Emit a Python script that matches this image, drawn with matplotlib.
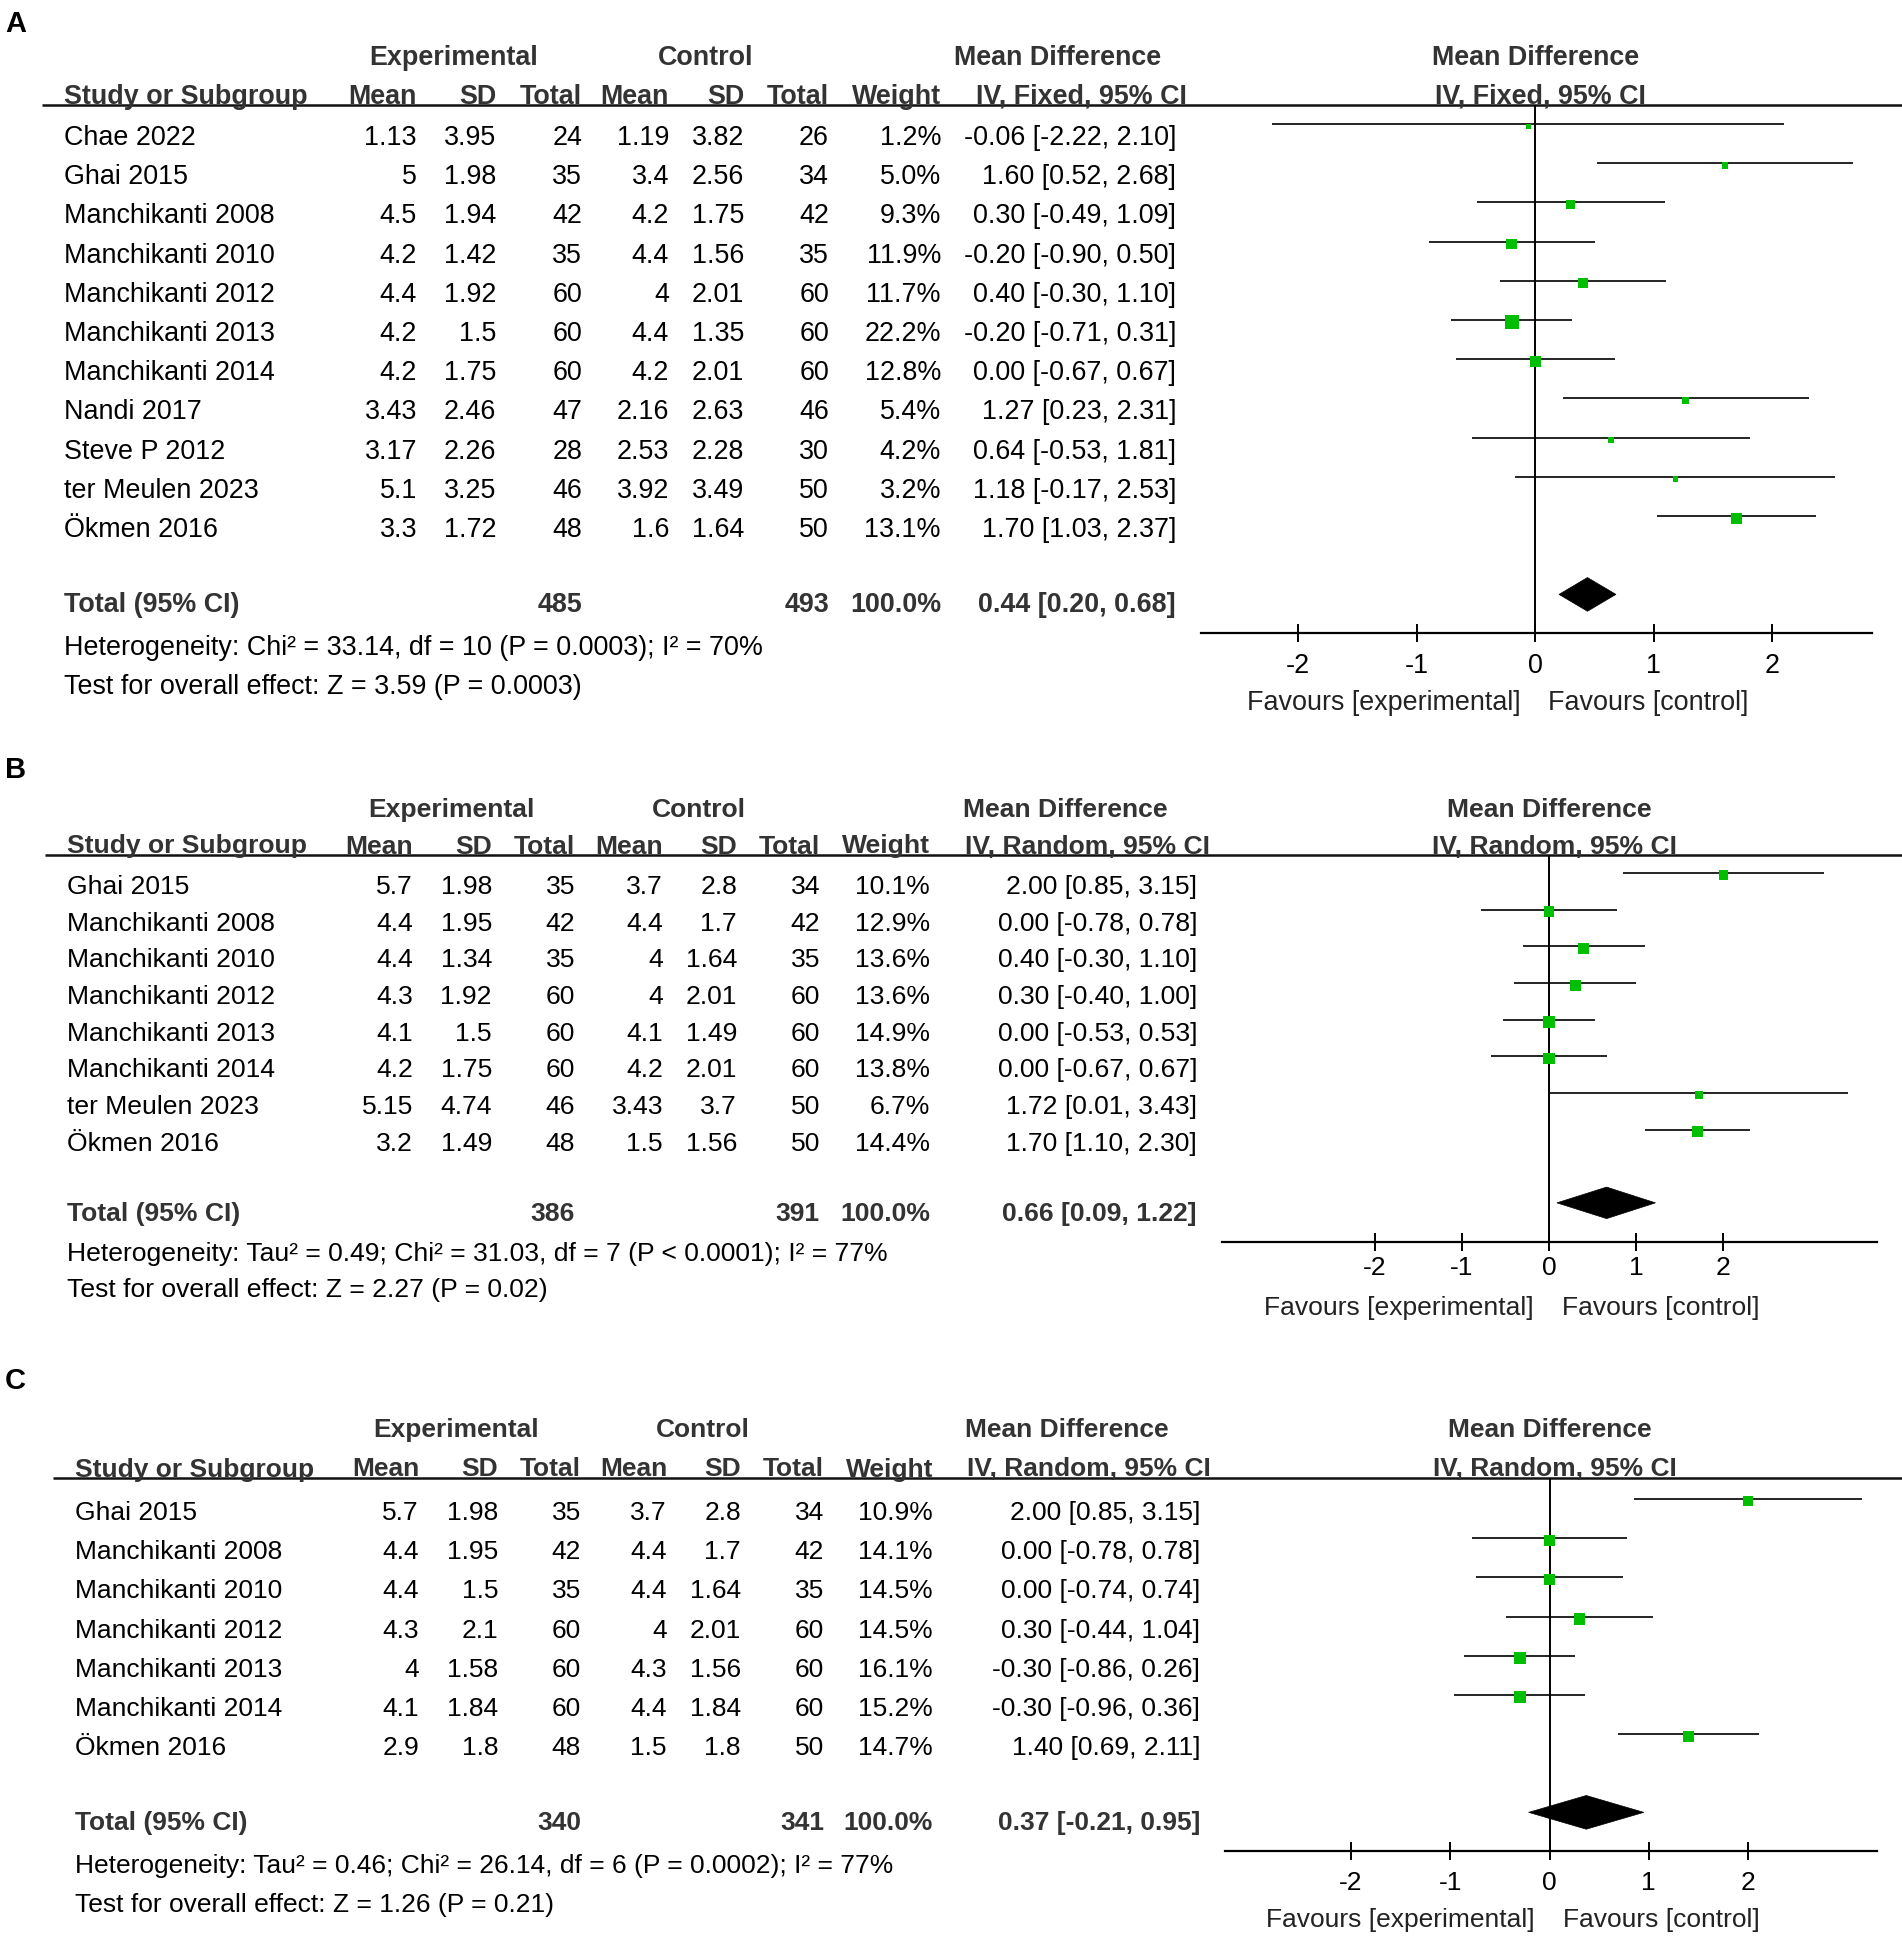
import matplotlib
matplotlib.use("Agg")
import matplotlib.pyplot as plt
from matplotlib.patches import Polygon
import numpy as np

plt.rcParams['font.family'] = ['Liberation Sans', 'DejaVu Sans']
plt.rcParams['axes.unicode_minus'] = False

# ---------------- DATA ----------------
# Panel A (fixed effect)
studies_A = ["Chae 2022", "Ghai 2015", "Manchikanti 2008", "Manchikanti 2010", "Manchikanti 2012",
             "Manchikanti 2013", "Manchikanti 2014", "Nandi 2017", "Steve P 2012", "ter Meulen 2023", "Ökmen 2016"]
exp_mean_A = [1.13, 5, 4.5, 4.2, 4.4, 4.2, 4.2, 3.43, 3.17, 5.1, 3.3]
exp_sd_A = [3.95, 1.98, 1.94, 1.42, 1.92, 1.5, 1.75, 2.46, 2.26, 3.25, 1.72]
exp_n_A = [24, 35, 42, 35, 60, 60, 60, 47, 28, 46, 48]
ctl_mean_A = [1.19, 3.4, 4.2, 4.4, 4, 4.4, 4.2, 2.16, 2.53, 3.92, 1.6]
ctl_sd_A = [3.82, 2.56, 1.75, 1.56, 2.01, 1.35, 2.01, 2.63, 2.28, 3.49, 1.64]
ctl_n_A = [26, 34, 42, 35, 60, 60, 60, 46, 30, 50, 50]
weight_A = [1.2, 5.0, 9.3, 11.9, 11.7, 22.2, 12.8, 5.4, 4.2, 3.2, 13.1]
md_A = [-0.06, 1.60, 0.30, -0.20, 0.40, -0.20, 0.00, 1.27, 0.64, 1.18, 1.70]
lo_A = [-2.22, 0.52, -0.49, -0.90, -0.30, -0.71, -0.67, 0.23, -0.53, -0.17, 1.03]
hi_A = [2.10, 2.68, 1.09, 0.50, 1.10, 0.31, 0.67, 2.31, 1.81, 2.53, 2.37]
total_A = dict(n_e=485, n_c=493, md=0.44, lo=0.20, hi=0.68)
het_A = "Heterogeneity: Chi² = 33.14, df = 10 (P = 0.0003); I² = 70%"
test_A = "Test for overall effect: Z = 3.59 (P = 0.0003)"
method_A = "IV, Fixed, 95% CI"
ticks_A = [-2, -1, 0, 1, 2]

# Panel B (random effects)
studies_B = ["Ghai 2015", "Manchikanti 2008", "Manchikanti 2010", "Manchikanti 2012",
             "Manchikanti 2013", "Manchikanti 2014", "ter Meulen 2023", "Ökmen 2016"]
exp_mean_B = [5.7, 4.4, 4.4, 4.3, 4.1, 4.2, 5.15, 3.2]
exp_sd_B = [1.98, 1.95, 1.34, 1.92, 1.5, 1.75, 4.74, 1.49]
exp_n_B = [35, 42, 35, 60, 60, 60, 46, 48]
ctl_mean_B = [3.7, 4.4, 4, 4, 4.1, 4.2, 3.43, 1.5]
ctl_sd_B = [2.8, 1.7, 1.64, 2.01, 1.49, 2.01, 3.7, 1.56]
ctl_n_B = [34, 42, 35, 60, 60, 60, 50, 50]
weight_B = [10.1, 12.9, 13.6, 13.6, 14.9, 13.8, 6.7, 14.4]
md_B = [2.00, 0.00, 0.40, 0.30, 0.00, 0.00, 1.72, 1.70]
lo_B = [0.85, -0.78, -0.30, -0.40, -0.53, -0.67, 0.01, 1.10]
hi_B = [3.15, 0.78, 1.10, 1.00, 0.53, 0.67, 3.43, 2.30]
total_B = dict(n_e=386, n_c=391, md=0.66, lo=0.09, hi=1.22)
het_B = "Heterogeneity: Tau² = 0.49; Chi² = 31.03, df = 7 (P < 0.0001); I² = 77%"
test_B = "Test for overall effect: Z = 2.27 (P = 0.02)"
method_B = "IV, Random, 95% CI"
ticks_B = [-2, -1, 0, 1, 2]

# Panel C (random effects)
studies_C = ["Ghai 2015", "Manchikanti 2008", "Manchikanti 2010", "Manchikanti 2012",
             "Manchikanti 2013", "Manchikanti 2014", "Ökmen 2016"]
exp_mean_C = [5.7, 4.4, 4.4, 4.3, 4, 4.1, 2.9]
exp_sd_C = [1.98, 1.95, 1.5, 2.1, 1.58, 1.84, 1.8]
exp_n_C = [35, 42, 35, 60, 60, 60, 48]
ctl_mean_C = [3.7, 4.4, 4.4, 4, 4.3, 4.4, 1.5]
ctl_sd_C = [2.8, 1.7, 1.64, 2.01, 1.56, 1.84, 1.8]
ctl_n_C = [34, 42, 35, 60, 60, 60, 50]
weight_C = [10.9, 14.1, 14.5, 14.5, 16.1, 15.2, 14.7]
md_C = [2.00, 0.00, 0.00, 0.30, -0.30, -0.30, 1.40]
lo_C = [0.85, -0.78, -0.74, -0.44, -0.86, -0.96, 0.69]
hi_C = [3.15, 0.78, 0.74, 1.04, 0.26, 0.36, 2.11]
total_C = dict(n_e=340, n_c=341, md=0.37, lo=-0.21, hi=0.95)
het_C = "Heterogeneity: Tau² = 0.46; Chi² = 26.14, df = 6 (P = 0.0002); I² = 77%"
test_C = "Test for overall effect: Z = 1.26 (P = 0.21)"
method_C = "IV, Random, 95% CI"
ticks_C = [-2, -1, 0, 1, 2]

col_headers = ["Mean", "SD", "Total", "Mean", "SD", "Total", "Weight"]

# ---------------- LAYOUT (pixels) ----------------
W, H = 1902, 1939
DARK = '#333333'
GREEN = '#00BF00'

layouts = {
    'A': dict(fs=19.35, label_y=22, y0=135, s=39.2, hdr1=55, line_y=105, line_x0=42, study_x=64,
              cols=[417, 496, 582, 669, 744, 829, 941], ci_hdr=1187, ci_dat=1176,
              groups=[454, 706, 1058], axis_y=633, ax_px=(1201, 1872), xlim=(-2.82, 2.84),
              fav_off=67, tick_pad=8),
    'B': dict(fs=19.07, label_y=768, y0=884, s=36.65, hdr1=807, line_y=855, line_x0=45, study_x=67,
              cols=[413, 492, 575, 663, 737, 820, 930], ci_hdr=1210, ci_dat=1197,
              groups=[451, 699, 1065], axis_y=1242, ax_px=(1222, 1877), xlim=(-3.75, 3.76),
              fav_off=63, tick_pad=3.5),
    'C': dict(fs=19.0, label_y=1379, y0=1510, s=39.17, hdr1=1427, line_y=1478, line_x0=53, study_x=75,
              cols=[419, 498, 581, 667, 741, 824, 933], ci_hdr=1211, ci_dat=1200,
              groups=[456, 703, 1067], axis_y=1851, ax_px=(1225, 1877), xlim=(-3.27, 3.30),
              fav_off=66, tick_pad=8),
}

panels = {
    'A': (studies_A, exp_mean_A, exp_sd_A, exp_n_A, ctl_mean_A, ctl_sd_A, ctl_n_A, weight_A,
          md_A, lo_A, hi_A, total_A, het_A, test_A, method_A, ticks_A),
    'B': (studies_B, exp_mean_B, exp_sd_B, exp_n_B, ctl_mean_B, ctl_sd_B, ctl_n_B, weight_B,
          md_B, lo_B, hi_B, total_B, het_B, test_B, method_B, ticks_B),
    'C': (studies_C, exp_mean_C, exp_sd_C, exp_n_C, ctl_mean_C, ctl_sd_C, ctl_n_C, weight_C,
          md_C, lo_C, hi_C, total_C, het_C, test_C, method_C, ticks_C),
}

fig = plt.figure(figsize=(W / 100, H / 100), dpi=100)
base = fig.add_axes([0, 0, 1, 1])
base.set_xlim(0, W)
base.set_ylim(H, 0)
base.axis('off')

CAP = 10  # half cap height in px: baseline = centre + CAP


def ci_str(m, l, h):
    return f"{m:.2f} [{l:.2f}, {h:.2f}]"


for key in ['A', 'B', 'C']:
    (studies, em, esd, en, cm, csd, cn, wt, md, lo, hi, tot, het, test, method, ticks) = panels[key]
    L = layouts[key]
    FS = L['fs']
    n = len(studies)
    y0, s = L['y0'], L['s']
    row_base = lambda i: y0 + s * i + CAP

    # panel label
    base.text(5, L['label_y'] + 10, key, fontsize=21, fontweight='bold', color='black', va='baseline')

    # group headers
    hb = L['hdr1'] + CAP
    for txt, gx in zip(["Experimental", "Control", "Mean Difference"], L['groups']):
        base.text(gx, hb, txt, ha='center', va='baseline', fontsize=FS, fontweight='bold', color=DARK)

    # column headers
    h2 = L['line_y'] - 1.5
    base.text(L['study_x'], h2, "Study or Subgroup", ha='left', va='baseline', fontsize=FS,
              fontweight='bold', color=DARK)
    for txt, cx in zip(col_headers, L['cols']):
        base.text(cx, h2, txt, ha='right', va='baseline', fontsize=FS, fontweight='bold', color=DARK)
    base.text(L['ci_hdr'], h2, method, ha='right', va='baseline', fontsize=FS, fontweight='bold', color=DARK)

    # header rule
    base.plot([L['line_x0'], W], [L['line_y'], L['line_y']], color='#111111', lw=1.8,
              solid_capstyle='butt')

    # study rows
    for i in range(n):
        yb = row_base(i)
        base.text(L['study_x'], yb, studies[i], ha='left', va='baseline', fontsize=FS, color='black')
        vals = [f"{em[i]:g}", f"{esd[i]:g}", f"{en[i]}", f"{cm[i]:g}", f"{csd[i]:g}", f"{cn[i]}",
                f"{wt[i]:.1f}%"]
        for v, cx in zip(vals, L['cols']):
            base.text(cx, yb, v, ha='right', va='baseline', fontsize=FS, color='black')
        base.text(L['ci_dat'], yb, ci_str(md[i], lo[i], hi[i]), ha='right', va='baseline',
                  fontsize=FS, color='black')

    # total row
    it = n + 1
    yb = row_base(it) - 3
    base.text(L['study_x'], yb, "Total (95% CI)", ha='left', va='baseline', fontsize=FS,
              fontweight='bold', color=DARK)
    base.text(L['cols'][2], yb, f"{tot['n_e']}", ha='right', va='baseline', fontsize=FS,
              fontweight='bold', color=DARK)
    base.text(L['cols'][5], yb, f"{tot['n_c']}", ha='right', va='baseline', fontsize=FS,
              fontweight='bold', color=DARK)
    base.text(L['cols'][6], yb, "100.0%", ha='right', va='baseline', fontsize=FS,
              fontweight='bold', color=DARK)
    base.text(L['ci_dat'], yb, ci_str(tot['md'], tot['lo'], tot['hi']), ha='right', va='baseline',
              fontsize=FS, fontweight='bold', color=DARK)
    base.text(L['study_x'], row_base(n + 2), het, ha='left', va='baseline', fontsize=FS, color='black')
    base.text(L['study_x'], row_base(n + 3), test, ha='left', va='baseline', fontsize=FS, color='black')

    # forest axes
    l, r = L['ax_px']
    top, bot = L['line_y'], L['axis_y']
    ax = fig.add_axes([l / W, 1 - bot / H, (r - l) / W, (bot - top) / H])
    ax.patch.set_alpha(0)
    ax.set_xlim(*L['xlim'])
    off = y0 - 11
    ax.set_ylim((bot - off) / s, (top - off) / s)
    for sp in ['top', 'left', 'right']:
        ax.spines[sp].set_visible(False)
    ax.spines['bottom'].set_linewidth(1.6)
    ax.set_yticks([])
    ax.set_xticks(ticks)
    ax.set_xticklabels([f"{t}" for t in ticks])
    ax.tick_params(axis='x', direction='inout', length=13, width=1.4, labelsize=FS,
                   pad=L['tick_pad'], colors='black')

    ax.axvline(0, color='black', lw=1.4, zorder=1)
    rows = np.arange(n)
    ax.hlines(rows, lo, hi, color='black', lw=1.2, zorder=2)
    side_px = np.maximum(5.0, 3.0 * np.sqrt(np.array(wt)))
    ms_pt = side_px * 72 / 100
    ax.scatter(md, rows + 0.06, s=ms_pt ** 2, marker='s', color=GREEN, linewidths=0, zorder=3)

    hd = 0.43
    dia = Polygon([(tot['lo'], it), (tot['md'], it - hd), (tot['hi'], it), (tot['md'], it + hd)],
                  closed=True, facecolor='black', edgecolor='black', lw=0.5, zorder=3)
    ax.add_patch(dia)

    # plot headers
    zero_px = l + (0 - L['xlim'][0]) / (L['xlim'][1] - L['xlim'][0]) * (r - l)
    base.text(zero_px, hb, "Mean Difference", ha='center', va='baseline', fontsize=FS,
              fontweight='bold', color=DARK)
    base.text(zero_px + 5, h2, method, ha='center', va='baseline', fontsize=FS,
              fontweight='bold', color=DARK)

    # favours labels
    fy = bot + L['fav_off'] + CAP
    base.text(zero_px - 15, fy, "Favours [experimental]", ha='right', va='baseline', fontsize=FS,
              color='#222222')
    base.text(zero_px + 13, fy, "Favours [control]", ha='left', va='baseline', fontsize=FS,
              color='#222222')

fig.savefig("out.png", dpi=100)
